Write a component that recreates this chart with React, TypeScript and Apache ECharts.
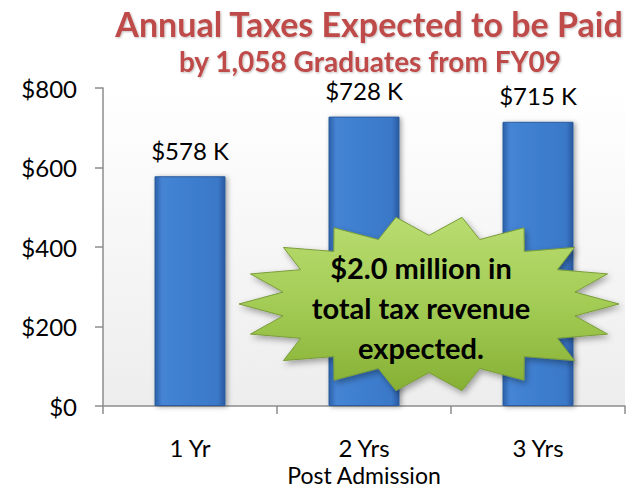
import React, { useEffect, useRef } from "react";
import * as echarts from "echarts";

const categories = ["1 Yr", "2 Yrs", "3 Yrs"];
const taxValues = [578, 728, 715];
const yTicks = { min: 0, max: 800, interval: 200 };
const titleLines = ["Annual Taxes Expected to be Paid", "by 1,058 Graduates from FY09"];
const calloutLines = ["$2.0 million in", "total tax revenue", "expected."];
const xAxisName = "Post Admission";

const FONT = "Lato, 'Open Sans', sans-serif";

function starPoints(cx: number, cy: number, rx: number, ry: number, n: number, inner: number) {
  const pts: number[][] = [];
  for (let i = 0; i < n * 2; i++) {
    const a = (Math.PI * i) / n;
    const r = i % 2 === 0 ? 1 : inner;
    pts.push([cx + Math.cos(a) * rx * r, cy + Math.sin(a) * ry * r]);
  }
  return pts;
}

export default function App() {
  const ref = useRef<HTMLDivElement>(null);
  useEffect(() => {
    document.body.style.margin = "0";
    const chart = echarts.init(ref.current!, null, { renderer: "svg" });
    const barGrad = new echarts.graphic.LinearGradient(0, 0, 1, 0, [
      { offset: 0, color: "#2C5FA8" },
      { offset: 0.1, color: "#4584D4" },
      { offset: 0.5, color: "#3E7ECF" },
      { offset: 0.9, color: "#3A78C8" },
      { offset: 1, color: "#2A5AA0" },
    ]);
    const starGrad = new echarts.graphic.LinearGradient(0, 0, 0, 1, [
      { offset: 0, color: "#B9DC70" },
      { offset: 0.5, color: "#A3CC55" },
      { offset: 1, color: "#86B034" },
    ]);
    chart.setOption({
      animation: false,
      grid: {
        left: 103,
        right: 12,
        top: 88,
        bottom: 83,
        outerBoundsMode: "none",
        containLabel: false,
        show: true,
        borderWidth: 0,
        backgroundColor: new echarts.graphic.LinearGradient(0, 0, 0, 1, [
          { offset: 0, color: "#FFFFFF" },
          { offset: 1, color: "#EDEDED" },
        ]),
      },
      xAxis: {
        type: "category",
        data: categories,
        name: xAxisName,
        nameLocation: "middle",
        nameGap: 55,
        nameTextStyle: { fontFamily: FONT, fontSize: 23, color: "#000", lineHeight: 23 },
        axisLine: { lineStyle: { color: "#8C8C8C", width: 1.5 } },
        axisTick: { show: true, length: 8, lineStyle: { color: "#8C8C8C", width: 1.5 } },
        axisLabel: { fontFamily: FONT, fontSize: 24, color: "#000", margin: 29 },
      },
      yAxis: {
        type: "value",
        min: yTicks.min,
        max: yTicks.max,
        interval: yTicks.interval,
        splitLine: { show: false },
        axisLine: { show: true, lineStyle: { color: "#8C8C8C", width: 1.5 } },
        axisTick: { show: true, length: 8, lineStyle: { color: "#8C8C8C", width: 1.5 } },
        axisLabel: {
          fontFamily: FONT,
          fontSize: 24,
          color: "#000",
          margin: 26,
          formatter: (v: number) => "$" + v,
        },
      },
      series: [
        {
          type: "bar",
          data: taxValues,
          barWidth: 71,
          itemStyle: {
            color: barGrad,
            borderColor: "#2B5C9E",
            borderWidth: 1,
            shadowBlur: 5,
            shadowOffsetX: 2,
            shadowOffsetY: 1,
            shadowColor: "rgba(0,0,0,0.35)",
          },
          label: {
            show: true,
            position: "top",
            distance: 14,
            fontFamily: FONT,
            fontSize: 24,
            color: "#000",
            formatter: (p: any) => "$" + p.value + " K",
          },
        },
      ],
      graphic: [
        {
          type: "text",
          x: 369,
          y: 23,
          style: {
            text: titleLines[0],
            fontFamily: FONT,
            fontWeight: "bold",
            fontSize: 34,
            fill: "#BE4B48",
            textAlign: "center",
            textVerticalAlign: "middle",
            textShadowColor: "rgba(0,0,0,0.25)",
            textShadowBlur: 2,
            textShadowOffsetX: 1,
            textShadowOffsetY: 1,
          },
        },
        {
          type: "text",
          x: 370,
          y: 61,
          style: {
            text: titleLines[1],
            fontFamily: FONT,
            fontWeight: "bold",
            fontSize: 28,
            fill: "#BE4B48",
            textAlign: "center",
            textVerticalAlign: "middle",
            textShadowColor: "rgba(0,0,0,0.25)",
            textShadowBlur: 2,
            textShadowOffsetX: 1,
            textShadowOffsetY: 1,
          },
        },
        {
          type: "polygon",
          shape: { points: starPoints(429, 304, 190, 88, 18, 0.78) },
          style: {
            fill: starGrad,
            stroke: "#7A9C3A",
            lineWidth: 1,
            shadowBlur: 6,
            shadowOffsetX: 2,
            shadowOffsetY: 3,
            shadowColor: "rgba(0,0,0,0.35)",
          },
          z: 100,
        },
        {
          type: "text",
          x: 421,
          y: 307,
          z: 101,
          style: {
            text: calloutLines.join("\n"),
            fontFamily: FONT,
            fontWeight: "bold",
            fontSize: 29,
            lineHeight: 40,
            fill: "#000",
            textAlign: "center",
            textVerticalAlign: "middle",
          },
        },
      ],
    });
    return () => chart.dispose();
  }, []);
  return <div ref={ref} style={{ width: 637, height: 489 }} />;
}
